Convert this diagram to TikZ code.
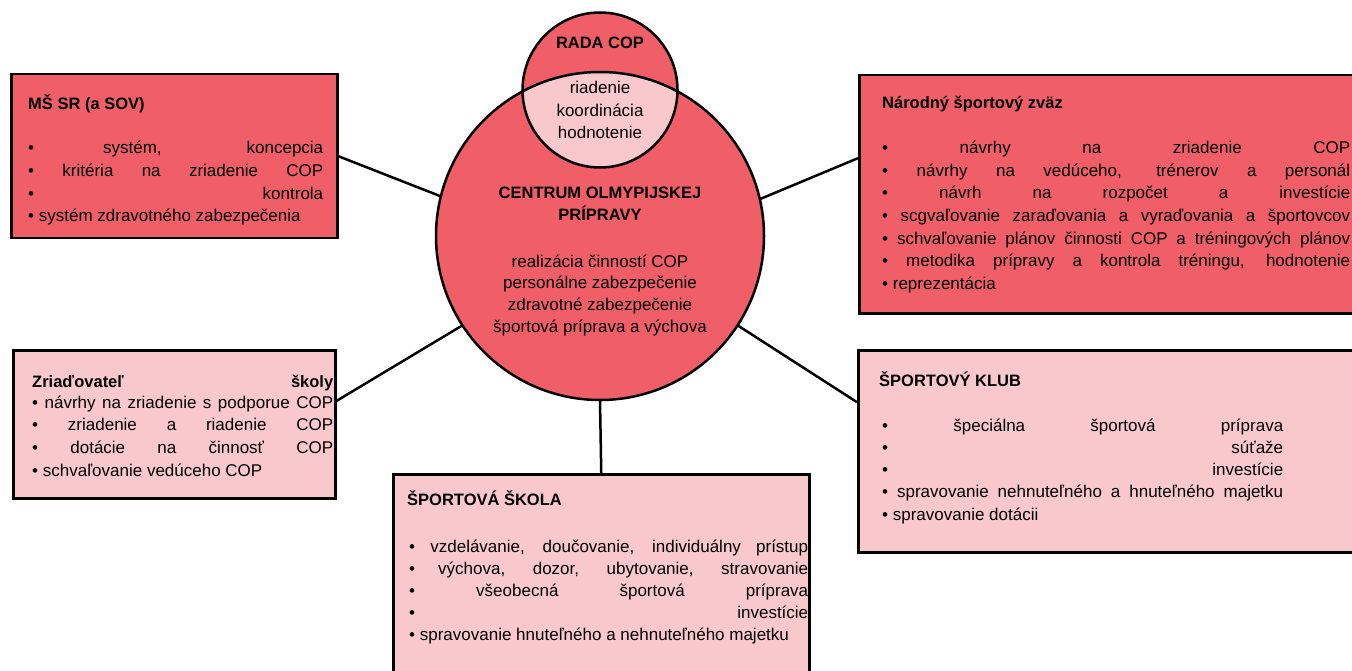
\documentclass[tikz,border=0pt]{standalone}
\usepackage{fontspec}
\setmainfont{Liberation Sans}
\usetikzlibrary{calc}
\definecolor{copred}{RGB}{240,95,104}
\definecolor{coppink}{RGB}{249,200,204}
\tikzset{
  box/.style={draw=black, line width=2.5pt, anchor=north west, inner sep=0pt},
  darkbox/.style={box, fill=copred},
  lightbox/.style={box, fill=coppink},
  ln/.style={anchor=base west, inner sep=0pt, font=\fontsize{17}{20}\selectfont},
  ttl/.style={anchor=base west, inner sep=0pt, font=\fontsize{16.5}{20}\selectfont\bfseries},
  ctr/.style={anchor=base, inner sep=0pt, font=\fontsize{17}{20}\selectfont},
  ctrb/.style={anchor=base, inner sep=0pt, font=\fontsize{16.5}{20}\selectfont\bfseries},
  conn/.style={line width=2.5pt},
  ring/.style={circle, inner sep=0pt, fill=copred},
}
\newcommand{\jl}[2]{\makebox[#1][s]{#2}}
\begin{document}
\begin{tikzpicture}[x=1pt,y=-1pt]
\useasboundingbox (0,0) rectangle (1352,671);
\clip (0,0) rectangle (1352,671);

% boxes
\node[darkbox, minimum width=326pt, minimum height=164pt] (ms) at (10,73) {};
\node[darkbox, minimum width=520pt, minimum height=238pt] (nar) at (858,74) {};
\node[lightbox, minimum width=322pt, minimum height=148pt] (zr) at (12,349) {};
\node[lightbox, minimum width=416pt, minimum height=260pt] (ss) at (392,473) {};
\node[lightbox, minimum width=520pt, minimum height=202pt] (kl) at (857,349) {};

% circles
\node[ring, minimum size=328pt] (cop) at (600,236) {};
\node[ring, minimum size=155pt] (rada) at (600,90) {};
\begin{scope}
  \clip (cop.center) circle (164pt);
  \fill[coppink] (rada.center) circle (77.5pt);
\end{scope}
\draw[conn] (cop.center) circle (164pt);
\draw[conn] (rada.center) circle (77.5pt);

% connectors
\coordinate (narA) at ($(nar.north west)!0.35!(nar.south west)$);
\coordinate (zrA) at ($(zr.north east)!0.345!(zr.south east)$);
\coordinate (klA) at ($(kl.north west)!0.26!(kl.south west)$);
\draw[conn] (ms.east) -- (cop.166);
\draw[conn] (narA) -- (cop.13);
\draw[conn] (zrA) -- (cop.213);
\draw[conn] (klA) -- (cop.327);
\draw[conn] (ss.north) -- (cop.south);

% circle texts
\node[ctrb] (rada-t) at (600,49) {RADA COP};
\node[ctr] (rada-1) at (600,94) {riadenie};
\node[ctr] (rada-2) at (600,116.5) {koordinácia};
\node[ctr] (rada-3) at (600,138.5) {hodnotenie};
\node[ctrb] (cop-t1) at (600,199) {CENTRUM OLMYPIJSKEJ};
\node[ctrb] (cop-t2) at (600,221) {PRÍPRAVY};
\node[ctr] (cop-1) at (600,267) {realizácia činností COP};
\node[ctr] (cop-2) at (600,288.5) {personálne zabezpečenie};
\node[ctr] (cop-3) at (600,310) {zdravotné zabezpečenie};
\node[ctr] (cop-4) at (600,332) {športová príprava a výchova};

% MŠ SR
\node[ttl] (ms-t) at (28,110) {MŠ SR (a SOV)};
\node[ln] (ms-1) at (28,154) {\jl{295pt}{•\ systém, koncepcia}};
\node[ln] (ms-2) at (28,177) {\jl{295pt}{•\ kritéria na zriadenie COP}};
\node[ln] (ms-3) at (28,199.5) {\jl{295pt}{•\ kontrola}};
\node[ln] (ms-4) at (28,222) {•\ systém zdravotného zabezpečenia};

% Národný športový zväz
\node[ttl] (nar-t) at (882,109) {Národný športový zväz};
\node[ln] (nar-1) at (882,154) {\jl{468pt}{•\ návrhy na zriadenie COP}};
\node[ln] (nar-2) at (882,176.5) {\jl{468pt}{•\ návrhy na vedúceho, trénerov a personál}};
\node[ln] (nar-3) at (882,199) {\jl{468pt}{•\ návrh na rozpočet a investície}};
\node[ln] (nar-4) at (882,221.5) {\jl{468pt}{•\ scgvaľovanie zaraďovania a vyraďovania a športovcov}};
\node[ln] (nar-5) at (882,244) {\jl{468pt}{•\ schvaľovanie plánov činnosti COP a tréningových plánov}};
\node[ln] (nar-6) at (882,266.5) {\jl{468pt}{•\ metodika prípravy a kontrola tréningu, hodnotenie}};
\node[ln] (nar-7) at (882,289) {•\ reprezentácia};

% Zriaďovateľ školy
\node[ttl] (zr-t) at (32,387) {\jl{301pt}{Zriaďovateľ školy}};
\node[ln] (zr-1) at (32,408) {\jl{301pt}{•\ návrhy na zriadenie s podporue COP}};
\node[ln] (zr-2) at (32,430.7) {\jl{301pt}{•\ zriadenie a riadenie COP}};
\node[ln] (zr-3) at (32,453.4) {\jl{301pt}{•\ dotácie na činnosť COP}};
\node[ln] (zr-4) at (32,476) {•\ schvaľovanie vedúceho COP};

% Športová škola
\node[ttl] (ss-t) at (407,505) {ŠPORTOVÁ ŠKOLA};
\node[ln] (ss-1) at (409,552) {\jl{399pt}{•\ vzdelávanie, doučovanie, individuálny prístup}};
\node[ln] (ss-2) at (409,574) {\jl{399pt}{•\ výchova, dozor, ubytovanie, stravovanie}};
\node[ln] (ss-3) at (409,596) {\jl{399pt}{•\ všeobecná športová príprava}};
\node[ln] (ss-4) at (409,618) {\jl{399pt}{•\ investície}};
\node[ln] (ss-5) at (409,640) {•\ spravovanie hnuteľného a nehnuteľného majetku};

% Športový klub
\node[ttl] (kl-t) at (879,386) {ŠPORTOVÝ KLUB};
\node[ln] (kl-1) at (882,431) {\jl{401pt}{•\ špeciálna športová príprava}};
\node[ln] (kl-2) at (882,453) {\jl{401pt}{•\ súťaže}};
\node[ln] (kl-3) at (882,475.5) {\jl{401pt}{•\ investície}};
\node[ln] (kl-4) at (882,497.5) {\jl{401pt}{•\ spravovanie nehnuteľného a hnuteľného majetku}};
\node[ln] (kl-5) at (882,520) {•\ spravovanie dotácii};
\end{tikzpicture}
\end{document}
